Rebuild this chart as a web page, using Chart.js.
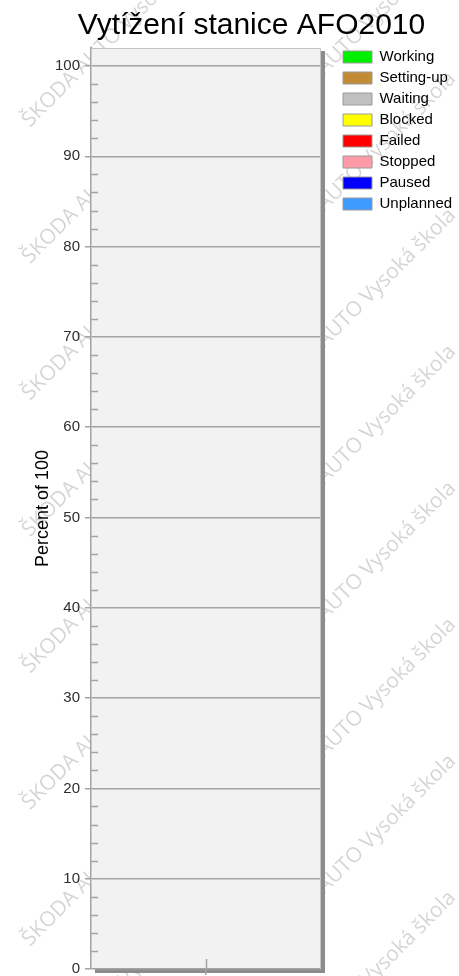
<!DOCTYPE html>
<html lang="cs">
<head>
<meta charset="utf-8">
<title>Vytížení stanice AFO2010</title>
<script src="https://cdn.jsdelivr.net/npm/chart.js@4.4.1/dist/chart.umd.min.js"></script>
<style>
  html, body { margin: 0; padding: 0; background: #ffffff; }
  canvas { display: block; }
</style>
</head>
<body>
<canvas id="chart" width="459" height="976"></canvas>
<script>
// ---- data ----
const categories = [''];
const stateNames = ['Working', 'Setting-up', 'Waiting', 'Blocked', 'Failed', 'Stopped', 'Paused', 'Unplanned'];
const stateColors = ['#00f000', '#c28c36', '#c0c0c0', '#ffff00', '#ff0000', '#ff9aa8', '#0000ff', '#3d9bff'];
const workingValues   = [0];
const settingUpValues = [0];
const waitingValues   = [0];
const blockedValues   = [0];
const failedValues    = [0];
const stoppedValues   = [0];
const pausedValues    = [0];
const unplannedValues = [0];
const yAxisMin = 0;
const yAxisMax = 102;
const yMajorStep = 10;
const yMinorStep = 2;

const chartTitle = 'Vytížení stanice AFO2010';
const yAxisTitle = 'Percent of 100';
const watermarkText = 'ŠKODA AUTO Vysoká škola';

const seriesValues = [workingValues, settingUpValues, waitingValues, blockedValues,
                      failedValues, stoppedValues, pausedValues, unplannedValues];

// ---- styling ----
const FONT = "'Liberation Sans', Arial, sans-serif";
const GRID = '#a3a3a3';
Chart.defaults.font.family = FONT;

// Faint diagonal text repeated behind the whole chart
const watermark = {
  id: 'watermark',
  beforeDraw(chart) {
    const ctx = chart.ctx;
    ctx.save();
    ctx.font = "21px 'Open Sans'";
    ctx.fillStyle = 'rgba(0,0,0,0.17)';
    ctx.textBaseline = 'alphabetic';
    const columns = [30, 272];
    for (const x0 of columns) {
      for (let k = -1; k < 8; k++) {
        const y0 = 128 + 136.5 * k;
        ctx.save();
        ctx.translate(x0, y0);
        ctx.rotate(-Math.PI / 4);
        ctx.fillText(watermarkText, 0, 0);
        ctx.restore();
      }
    }
    ctx.restore();
  }
};

// Light plotting panel with a dark drop shadow at right and bottom
const plotPanel = {
  id: 'plotPanel',
  beforeDraw(chart) {
    const {ctx, chartArea: a} = chart;
    ctx.save();
    ctx.fillStyle = '#8c8c8c';
    ctx.fillRect(a.left + 4, a.top + 3, a.right - a.left, a.bottom - a.top + 1);
    ctx.fillStyle = '#f2f2f2';
    ctx.fillRect(a.left, a.top, a.right - a.left, a.bottom - a.top);
    ctx.restore();
  },
  afterDraw(chart) {
    const {ctx, chartArea: a, scales} = chart;
    ctx.save();
    ctx.strokeStyle = '#c4c4c4';
    ctx.lineWidth = 1;
    ctx.beginPath();
    ctx.moveTo(a.left, a.top + 0.5);
    ctx.lineTo(a.right - 0.5, a.top + 0.5);
    ctx.lineTo(a.right - 0.5, a.bottom);
    ctx.stroke();

    // minor ticks inside the panel on the value axis
    ctx.strokeStyle = GRID;
    ctx.lineWidth = 1.5;
    const y = scales.y;
    ctx.beginPath();
    for (const t of y.ticks) {
      if (t.value % yMajorStep === 0 || t.value >= yAxisMax) continue;
      const py = Math.round(y.getPixelForValue(t.value)) + 0.5;
      ctx.moveTo(a.left, py);
      ctx.lineTo(a.left + 7, py);
    }
    // inner part of the category tick
    const x = scales.x;
    categories.forEach((c, i) => {
      const px = Math.round(x.getPixelForValue(i)) + 0.5;
      ctx.moveTo(px, a.bottom);
      ctx.lineTo(px, a.bottom - 10);
    });
    ctx.stroke();
    ctx.restore();
  }
};

const datasets = stateNames.map((name, i) => ({
  label: name,
  data: seriesValues[i],
  backgroundColor: stateColors[i],
  borderColor: '#9a9a9a',
  borderWidth: 1,
  stack: 'state'
}));

new Chart(document.getElementById('chart'), {
  type: 'bar',
  data: { labels: categories, datasets },
  plugins: [watermark, plotPanel],
  options: {
    responsive: false,
    animation: false,
    devicePixelRatio: 1,
    layout: { autoPadding: false, padding: { left: 44, right: 0, top: 0, bottom: 0 } },
    plugins: {
      tooltip: { enabled: false },
      title: {
        display: true,
        text: chartTitle,
        color: '#000000',
        font: { family: FONT, size: 30, weight: 'normal' },
        padding: { top: 8, bottom: 4 }
      },
      legend: {
        position: 'right',
        align: 'start',
        fullSize: true,
        maxWidth: 122,
        title: { display: true, text: '', font: { size: 10 }, padding: { top: 31.5, bottom: 0 } },
        labels: {
          boxWidth: 29,
          boxHeight: 12,
          padding: 6,
          color: '#000000',
          font: { family: FONT, size: 15 }
        }
      }
    },
    scales: {
      x: {
        type: 'category',
        stacked: true,
        grid: { display: true, drawOnChartArea: false, drawTicks: true, tickLength: 6, offset: false, color: GRID, lineWidth: 1.5 },
        border: { display: false },
        ticks: { display: false },
        afterFit(s) { s.height = 7; }
      },
      y: {
        type: 'linear',
        position: 'left',
        stacked: true,
        min: yAxisMin,
        max: yAxisMax,
        ticks: {
          stepSize: yMinorStep,
          autoSkip: false,
          padding: 5,
          color: '#2e2e2e',
          font: { family: FONT, size: 15 },
          callback: v => (v % yMajorStep === 0 ? v : '')
        },
        grid: {
          color: c => (c.tick && c.tick.value % yMajorStep === 0 ? GRID : 'rgba(0,0,0,0)'),
          tickColor: c => (c.tick && c.tick.value % yMajorStep === 0 ? GRID : 'rgba(0,0,0,0)'),
          tickLength: 6,
          lineWidth: 1.5
        },
        border: { display: true, color: GRID, width: 1.5 },
        title: {
          display: true,
          text: yAxisTitle,
          color: '#000000',
          font: { family: FONT, size: 18 },
          padding: { top: -11.8, bottom: 0 }
        },
        afterFit(s) { s.width = 47; s.paddingTop = 0; s.paddingBottom = 0; }
      },
      gap: {
        type: 'linear',
        position: 'right',
        display: true,
        grid: { display: false, drawTicks: false },
        border: { display: false },
        ticks: { display: false },
        afterFit(s) { s.width = 16; s.paddingTop = 0; s.paddingBottom = 0; }
      }
    }
  }
});
</script>
</body>
</html>
